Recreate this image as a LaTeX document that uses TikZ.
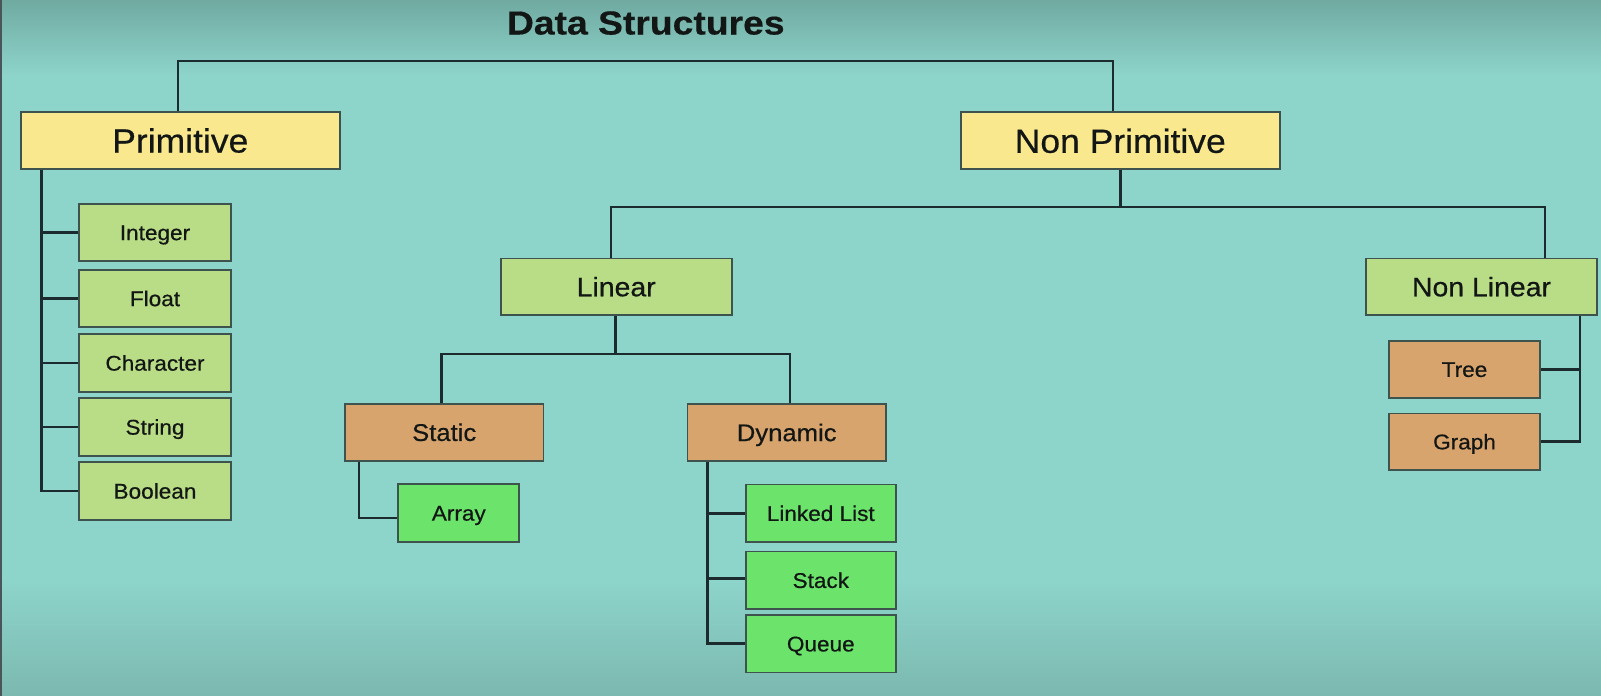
\documentclass[tikz,border=0pt]{standalone}
\usepackage{fontspec}
\setmainfont{Liberation Sans}[FakeStretch=1.06,FakeBold=0.5]
\newfontfamily\titlefont{Liberation Sans}[FakeStretch=1.12,FakeBold=0.4]
\definecolor{bg}{HTML}{8DD4CB}
\definecolor{bgtop}{HTML}{70AAA1}
\definecolor{bgbot}{HTML}{7CB9B0}
\definecolor{yel}{HTML}{F9E88E}
\definecolor{lgreen}{HTML}{B9DD86}
\definecolor{tan}{HTML}{D8A46D}
\definecolor{bgreen}{HTML}{6CE46C}
\definecolor{boxline}{HTML}{3E524E}
\definecolor{wire}{HTML}{1B2B2E}
\definecolor{txt}{HTML}{121614}
\begin{document}
\begin{tikzpicture}[x=1pt,y=-1pt,
  box/.style={draw=boxline, line width=1.7pt, inner sep=0pt, text=txt, text depth=0pt},
  topbox/.style={box, fill=yel, minimum height=57pt, font=\fontsize{33.5}{38}\selectfont, text height=24pt},
  linbox/.style={box, fill=lgreen, minimum height=56.7pt, font=\fontsize{26.8}{30}\selectfont, text height=19.2pt},
  midbox/.style={box, fill=tan, minimum height=57pt, font=\fontsize{24.2}{28}\selectfont, text height=17.3pt},
  smallbox/.style={box, minimum height=57.4pt, font=\fontsize{21.3}{25}\selectfont, text height=15.25pt},
  primbox/.style={smallbox, fill=lgreen, minimum width=151.4pt},
  leafbox/.style={smallbox, fill=bgreen},
  nlbox/.style={smallbox, fill=tan, minimum width=151pt, minimum height=56.7pt},
  conn/.style={draw=wire, line width=2.8pt}]
% background
\useasboundingbox (0,0) rectangle (1601,696);
\fill[bg] (0,0) rectangle (1601,696);
\shade[top color=bgtop, bottom color=bg] (0,0) rectangle (1601,75);
\shade[top color=bg, bottom color=bgbot] (0,580) rectangle (1601,696);
\fill[wire!80] (0,0) rectangle (2.2,696);
% title
\node[anchor=base, text=txt, inner sep=0pt, font=\titlefont\bfseries\fontsize{33.3}{38}\selectfont] (title) at (645.8,34.5) {Data Structures};
% level 1
\node[topbox, minimum width=319.3pt] (prim) at (180.3,140.5) {Primitive};
\node[topbox, minimum width=319pt] (nonprim) at (1120.3,140.8) {Non Primitive};
% primitive children
\node[primbox] (integer) at (155,232.5) {Integer};
\node[primbox] (float) at (155,298.5) {Float};
\node[primbox] (character) at (155,363) {Character};
\node[primbox] (string) at (155,427) {String};
\node[primbox] (boolean) at (155,491) {Boolean};
% level 2
\node[linbox, minimum width=231pt] (linear) at (616.2,286.7) {Linear};
\node[linbox, minimum width=231.6pt] (nonlinear) at (1481.5,286.7) {Non Linear};
% level 3
\node[midbox, minimum width=198.3pt] (static) at (444.2,432.3) {Static};
\node[midbox, minimum width=198.7pt] (dynamic) at (786.7,432.5) {Dynamic};
\node[leafbox, minimum width=121pt] (array) at (458.8,513) {Array};
\node[leafbox, minimum width=150.3pt] (linked) at (820.8,513.3) {Linked List};
\node[leafbox, minimum width=150.3pt] (stack) at (820.8,580.3) {Stack};
\node[leafbox, minimum width=150.3pt] (queue) at (820.8,643.8) {Queue};
\node[nlbox] (tree) at (1464.5,369.3) {Tree};
\node[nlbox] (graph) at (1464.5,441.7) {Graph};
% bus coordinates
\coordinate (bus1) at (0,61);
\coordinate (bus2) at (0,207);
\coordinate (bus3) at (0,354);
\coordinate (pa) at ([xshift=-2.3pt]prim.north);
\coordinate (npa) at ([xshift=-7.3pt]nonprim.north);
\coordinate (la) at ([xshift=-5.2pt]linear.north);
\coordinate (nla) at ([xshift=63.5pt]nonlinear.north);
\coordinate (lb) at ([xshift=-0.5pt]linear.south);
\coordinate (sa) at ([xshift=-2.5pt]static.north);
\coordinate (da) at ([xshift=3.3pt]dynamic.north);
\coordinate (pspine) at (41.7,0);
\coordinate (sspine) at (359,0);
\coordinate (dspine) at (707.3,0);
\coordinate (nspine) at (1580,0);
% connectors
\draw[conn] (pa) -- (pa |- bus1) -- (npa |- bus1) -- (npa);
\draw[conn] (nonprim.south) -- (nonprim.south |- bus2);
\draw[conn] (la) -- (la |- bus2) -- (nla |- bus2) -- (nla);
\draw[conn] (lb) -- (lb |- bus3);
\draw[conn] (sa) -- (sa |- bus3) -- (da |- bus3) -- (da);
% primitive spine
\draw[conn] (prim.south -| pspine) |- (boolean.west);
\foreach \n in {integer,float,character,string}
  \draw[conn] (\n.west -| pspine) -- (\n.west);
% static spine
\draw[conn] (static.south -| sspine) |- ([yshift=-5pt]array.west);
% dynamic spine
\draw[conn] (dynamic.south -| dspine) |- (queue.west);
\draw[conn] (linked.west -| dspine) -- (linked.west);
\draw[conn] ([yshift=2pt]stack.west -| dspine) -- ([yshift=2pt]stack.west);
% non linear spine
\draw[conn] (nonlinear.south -| nspine) |- (graph.east);
\draw[conn] (tree.east -| nspine) -- (tree.east);
\end{tikzpicture}
\end{document}
